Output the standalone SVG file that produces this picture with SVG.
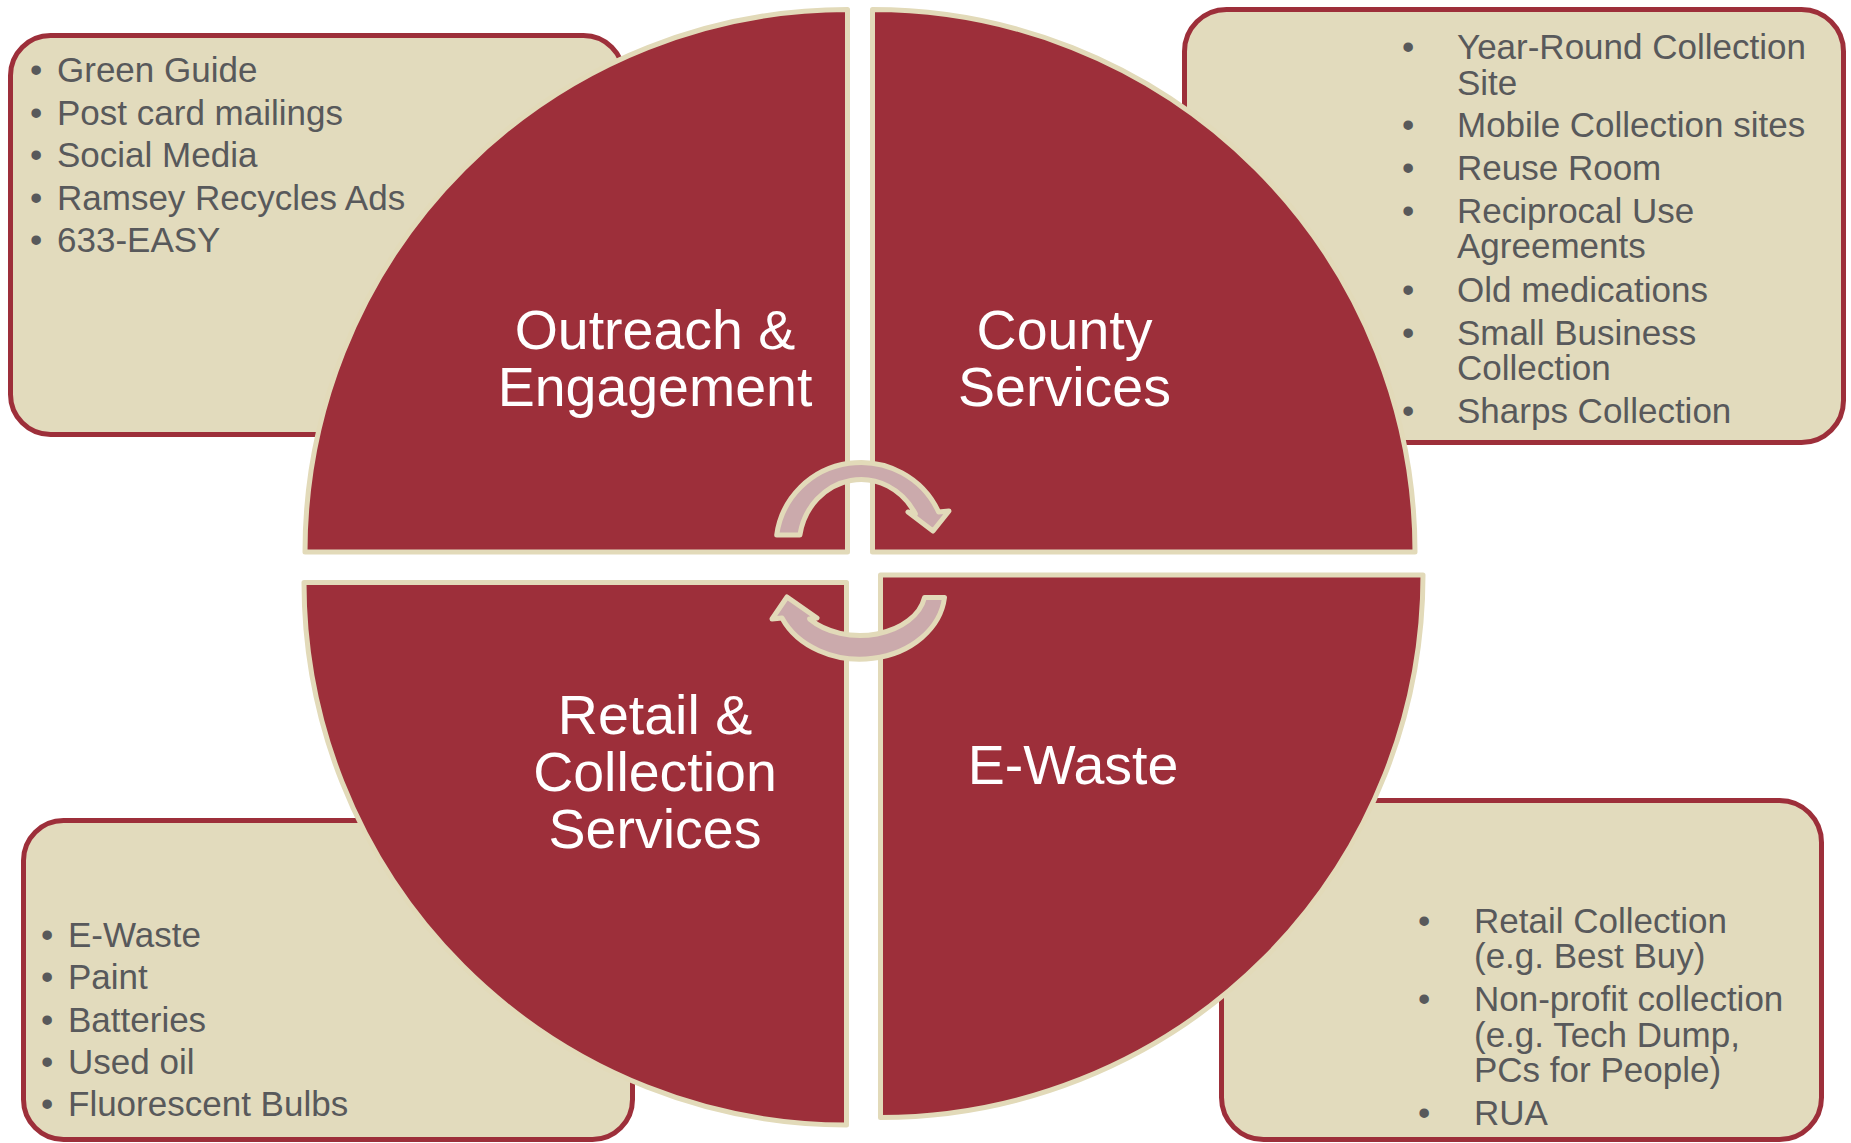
<svg xmlns="http://www.w3.org/2000/svg" width="1851" height="1143" viewBox="0 0 1851 1143">
<style>
.box{fill:#E2DBBD;stroke:#9D2F3A;stroke-width:5}
.quad{fill:#9D2F3A;stroke:#E2DAB9;stroke-width:5;stroke-linejoin:round}
.arrow{fill:#CBAAAC;stroke:#E2DAB9;stroke-width:5;stroke-linejoin:round}
.item{font-family:"Liberation Sans",Arial,sans-serif;font-size:35px;fill:#58595B}
.label{font-family:"Liberation Sans",Arial,sans-serif;font-size:55.5px;fill:#FFFFFF;text-anchor:middle}
</style>
<rect width="1851" height="1143" fill="#FFFFFF"/>
<g id="box-outreach">
<rect class="box" x="10.5" y="35.5" width="613" height="399" rx="40"/>
<text class="item" x="30" y="82">•</text><text class="item" x="57" y="82">Green Guide</text>
<text class="item" x="30" y="124.5">•</text><text class="item" x="57" y="124.5">Post card mailings</text>
<text class="item" x="30" y="167">•</text><text class="item" x="57" y="167">Social Media</text>
<text class="item" x="30" y="209.5">•</text><text class="item" x="57" y="209.5">Ramsey Recycles Ads</text>
<text class="item" x="30" y="252">•</text><text class="item" x="57" y="252">633-EASY</text>
</g>
<g id="box-county">
<rect class="box" x="1184.5" y="9.5" width="659" height="433" rx="42"/>
<text class="item" x="1402" y="59">•</text><text class="item" x="1457" y="59">Year-Round Collection</text>
<text class="item" x="1457" y="95">Site</text>
<text class="item" x="1402" y="137">•</text><text class="item" x="1457" y="137">Mobile Collection sites</text>
<text class="item" x="1402" y="180">•</text><text class="item" x="1457" y="180">Reuse Room</text>
<text class="item" x="1402" y="222.5">•</text><text class="item" x="1457" y="222.5">Reciprocal Use</text>
<text class="item" x="1457" y="258">Agreements</text>
<text class="item" x="1402" y="301.5">•</text><text class="item" x="1457" y="301.5">Old medications</text>
<text class="item" x="1402" y="345">•</text><text class="item" x="1457" y="345">Small Business</text>
<text class="item" x="1457" y="380">Collection</text>
<text class="item" x="1402" y="422.5">•</text><text class="item" x="1457" y="422.5">Sharps Collection</text>
</g>
<g id="box-retail">
<rect class="box" x="23.5" y="820.5" width="609" height="319" rx="40"/>
<text class="item" x="41" y="947">•</text><text class="item" x="68" y="947">E-Waste</text>
<text class="item" x="41" y="989">•</text><text class="item" x="68" y="989">Paint</text>
<text class="item" x="41" y="1032">•</text><text class="item" x="68" y="1032">Batteries</text>
<text class="item" x="41" y="1074">•</text><text class="item" x="68" y="1074">Used oil</text>
<text class="item" x="41" y="1116">•</text><text class="item" x="68" y="1116">Fluorescent Bulbs</text>
</g>
<g id="box-ewaste">
<rect class="box" x="1221.5" y="800.5" width="600" height="339" rx="42"/>
<text class="item" x="1418" y="933">•</text><text class="item" x="1474" y="933">Retail Collection</text>
<text class="item" x="1474" y="968">(e.g. Best Buy)</text>
<text class="item" x="1418" y="1011">•</text><text class="item" x="1474" y="1011">Non-profit collection</text>
<text class="item" x="1474" y="1047">(e.g. Tech Dump,</text>
<text class="item" x="1474" y="1082">PCs for People)</text>
<text class="item" x="1418" y="1125">•</text><text class="item" x="1474" y="1125">RUA</text>
</g>
<g id="node-outreach">
<path class="quad" d="M847.5 552 L305 552 A542.5 542.5 0 0 1 847.5 9.5 Z"/>
<text class="label" x="655" y="349">Outreach &amp;</text>
<text class="label" x="655" y="406">Engagement</text>
</g>
<g id="node-county">
<path class="quad" d="M872.5 552 L872.5 9.5 A542.5 542.5 0 0 1 1415 552 Z"/>
<text class="label" x="1064.5" y="349">County</text>
<text class="label" x="1064.5" y="406">Services</text>
</g>
<g id="node-retail">
<path class="quad" d="M846.5 582.5 L846.5 1125 A542.5 542.5 0 0 1 304 582.5 Z"/>
<text class="label" x="655" y="734">Retail &amp;</text>
<text class="label" x="655" y="791">Collection</text>
<text class="label" x="655" y="848">Services</text>
</g>
<g id="node-ewaste">
<path class="quad" d="M880.5 575 L1423 575 A542.5 542.5 0 0 1 880.5 1117.5 Z"/>
<text class="label" x="1073" y="784">E-Waste</text>
</g>
<g id="connectors">
<path class="arrow" d="M776.7 535 A85 83.5 0 0 1 938.6 512 L949 511 L933 531 L908 512 L915.4 514 A62 66.5 0 0 0 799.9 535 Z"/>
<path class="arrow" d="M944.5 597.5 A85 68.5 0 0 1 782 618 L772 619 L787 597 L817 618 L809.6 619 A65.4 45.5 0 0 0 924.5 597.5 Z"/>
</g>
</svg>
